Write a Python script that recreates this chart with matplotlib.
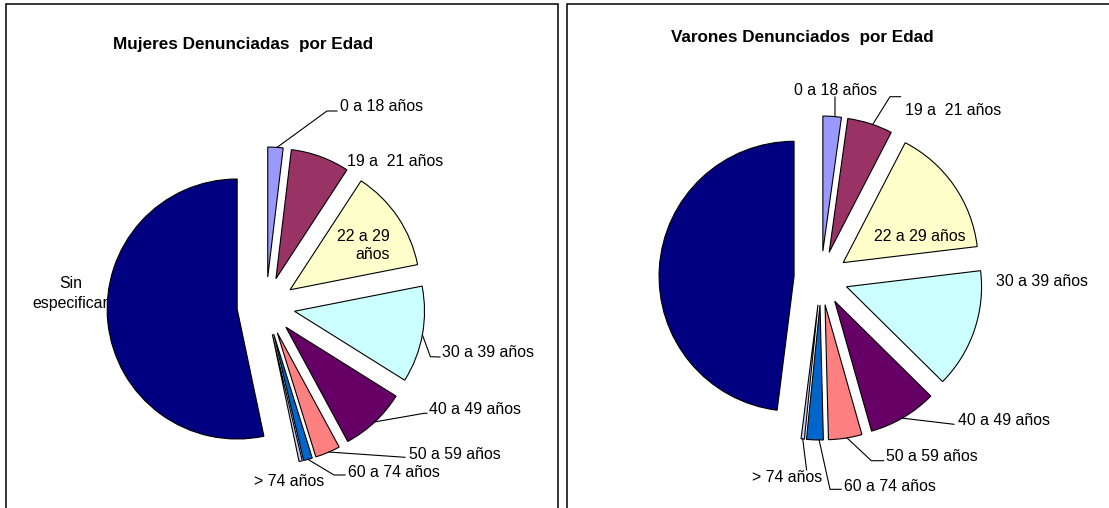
import matplotlib.pyplot as plt
import numpy as np
from matplotlib.patches import Rectangle

plt.rcParams['font.family'] = ['Liberation Sans', 'DejaVu Sans']

W, H = 1109, 508

# datos (porcentaje de denuncias por grupo de edad)
categorias = ["0 a 18 años", "19 a  21 años", "22 a 29 años", "30 a 39 años",
              "40 a 49 años", "50 a 59 años", "60 a 74 años", "> 74 años",
              "Sin especificar"]
mujeres = [1.9, 7.3, 12.7, 12.0, 8.2, 3.1, 1.1, 0.4, 53.3]
varones = [2.2, 5.4, 15.5, 14.3, 8.2, 4.0, 2.0, 0.4, 48.0]
colores = ["#9999FF", "#993366", "#FFFFCC", "#CCFFFF", "#660066",
           "#FF8080", "#0066CC", "#CCCCFF", "#000080"]
titulos = ["Mujeres Denunciadas  por Edad", "Varones Denunciados  por Edad"]

# layout en pixeles (y medida desde arriba); explode tambien en pixeles
paneles = [
    dict(centro=(266, 306), radio=130, explode=29, titulo=(243, 49.3), marco=(6, 558)),
    dict(centro=(821, 278), radio=135, explode=27, titulo=(802, 41.7), marco=(567, 1130)),
]

# por categoria: lineas de texto [(x, y_base)], alineacion, guia (t, puntos)
etiq_muj = [
    ([(340, 110.7)], 'left', (0.6, [(327, 111), (337, 111)])),
    ([(347, 165.7)], 'left', None),
    ([(390, 240.7), (390, 258.7)], 'right', None),
    ([(442, 357.3)], 'left', (0.5, [(430.4, 356.7), (440, 357)])),
    ([(429, 413.7)], 'left', (0.5, [(424, 413.3), (427, 413.3)])),
    ([(409, 458.7)], 'left', (0.45, [(405, 457.3)])),
    ([(348, 476.7)], 'left', (0.5, [(334, 475), (345, 475)])),
    ([(254, 485.7)], 'left', None),
    ([(71, 287.7), (70, 307.7)], 'center', None),
]
etiq_var = [
    ([(836, 94.7)], 'center', (0.65, [(835, 97)])),
    ([(905, 114.7)], 'left', (0.56, [(890, 96.7), (900.6, 96.7)])),
    ([(919.5, 240.7)], 'center', None),
    ([(996, 285.7)], 'left', None),
    ([(958, 424.7)], 'left', (0.52, [(954, 424.3)])),
    ([(886, 460.7)], 'left', (0.45, [(871.3, 460.7), (883.6, 460.7)])),
    ([(844, 490.7)], 'left', (0.25, [(830, 489.3), (841.2, 489.3)])),
    ([(752, 481.7)], 'left', (0.5, [(806.6, 470)])),
    ([], 'left', None),
]


def pt(x, y):
    return x, H - y


fig = plt.figure(figsize=(W / 100, H / 100), dpi=100)
ax = fig.add_axes([0, 0, 1, 1])

for datos, p, etiquetas, titulo in zip([mujeres, varones], paneles,
                                       [etiq_muj, etiq_var], titulos):
    x0, x1 = p['marco']
    ax.add_patch(Rectangle(pt(x0, 600), x1 - x0, 596, fill=False,
                           edgecolor='black', linewidth=1.1))

    wedges, _ = ax.pie(datos, colors=colores, startangle=90, counterclock=False,
                       explode=[p['explode']] * len(datos), radius=p['radio'],
                       center=pt(*p['centro']),
                       wedgeprops=dict(edgecolor='black', linewidth=0.8))

    ax.text(*pt(*p['titulo']), titulo, ha='center', va='baseline',
            fontsize=12.3, fontweight='bold')

    for i, (lineas, ha, guia) in enumerate(etiquetas):
        nombre = categorias[i]
        if len(lineas) == 2:
            if i == 2:
                partes = nombre.rsplit(' ', 1)
            else:
                partes = nombre.split(' ', 1)
        else:
            partes = [nombre]
        for txt, (lx, ly) in zip(partes, lineas):
            ax.text(*pt(lx, ly), txt, ha=ha, va='baseline', fontsize=11.4)
        if guia is not None:
            t, puntos = guia
            w = wedges[i]
            th = np.radians(w.theta2 - t * (w.theta2 - w.theta1))
            xs = [w.center[0] + w.r * np.cos(th)]
            ys = [w.center[1] + w.r * np.sin(th)]
            for gx, gy in puntos:
                xs.append(gx)
                ys.append(H - gy)
            ax.plot(xs, ys, color='black', linewidth=0.8)

ax.set_xlim(0, W)
ax.set_ylim(0, H)
ax.set_axis_off()

fig.savefig('out.png', dpi=100)
